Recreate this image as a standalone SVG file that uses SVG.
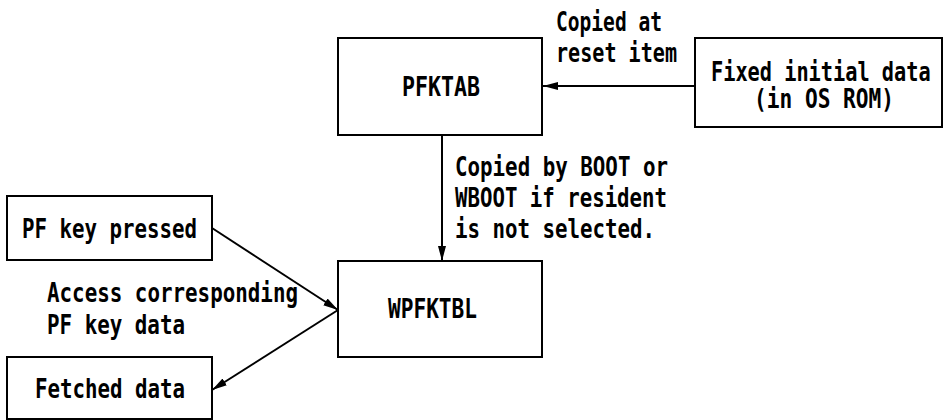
<svg xmlns="http://www.w3.org/2000/svg" width="945" height="420" viewBox="0 0 945 420">
<style>
.box{fill:#fff;stroke:#000;stroke-width:2}
.t{font-family:"DejaVu Sans Mono","Liberation Mono",monospace;font-weight:bold;font-size:26px;fill:#000}
.c{stroke:#000;stroke-width:2;fill:none}
</style>
<defs>
<marker id="ah" markerUnits="userSpaceOnUse" markerWidth="16" markerHeight="10" refX="15" refY="5" orient="auto">
<path d="M0,1 L15,5 L0,9 Z" fill="#000"/>
</marker>
</defs>
<rect width="945" height="420" fill="#fff"/>
<g id="connectors">
<line class="c" x1="695" y1="86" x2="543" y2="86" marker-end="url(#ah)"/>
<line class="c" x1="442" y1="135" x2="442" y2="261" marker-end="url(#ah)"/>
<line class="c" x1="212" y1="228" x2="338" y2="310" marker-end="url(#ah)"/>
<line class="c" x1="338" y1="310" x2="212" y2="390" marker-end="url(#ah)"/>
<text class="t" x="556" y="31" textLength="106" lengthAdjust="spacingAndGlyphs">Copied at</text>
<text class="t" x="556" y="62" textLength="121" lengthAdjust="spacingAndGlyphs">reset item</text>
<text class="t" x="455" y="176" textLength="213" lengthAdjust="spacingAndGlyphs">Copied by BOOT or</text>
<text class="t" x="455" y="207" textLength="212" lengthAdjust="spacingAndGlyphs">WBOOT if resident</text>
<text class="t" x="455" y="238" textLength="200" lengthAdjust="spacingAndGlyphs">is not selected.</text>
<text class="t" x="47" y="302" textLength="251" lengthAdjust="spacingAndGlyphs">Access corresponding</text>
<text class="t" x="47" y="334" textLength="138" lengthAdjust="spacingAndGlyphs">PF key data</text>
</g>
<g id="pfktab">
<rect class="box" x="338" y="38" width="204" height="97"/>
<text class="t" x="402" y="96" textLength="78" lengthAdjust="spacingAndGlyphs">PFKTAB</text>
</g>
<g id="fixed">
<rect class="box" x="695" y="38" width="247" height="89"/>
<text class="t" transform="translate(711,81) scale(0.78,1)" x="0" y="0">Fixed initial data</text>
<text class="t" x="754" y="108" textLength="140" lengthAdjust="spacingAndGlyphs">(in OS ROM)</text>
</g>
<g id="pfkey">
<rect class="box" x="7" y="196" width="205" height="64"/>
<text class="t" x="22" y="238" textLength="175" lengthAdjust="spacingAndGlyphs">PF key pressed</text>
</g>
<g id="wpfktbl">
<rect class="box" x="338" y="261" width="204" height="96"/>
<text class="t" x="388" y="318" textLength="89" lengthAdjust="spacingAndGlyphs">WPFKTBL</text>
</g>
<g id="fetched">
<rect class="box" x="7" y="357" width="205" height="62"/>
<text class="t" x="35" y="398" textLength="150" lengthAdjust="spacingAndGlyphs">Fetched data</text>
</g>
</svg>
